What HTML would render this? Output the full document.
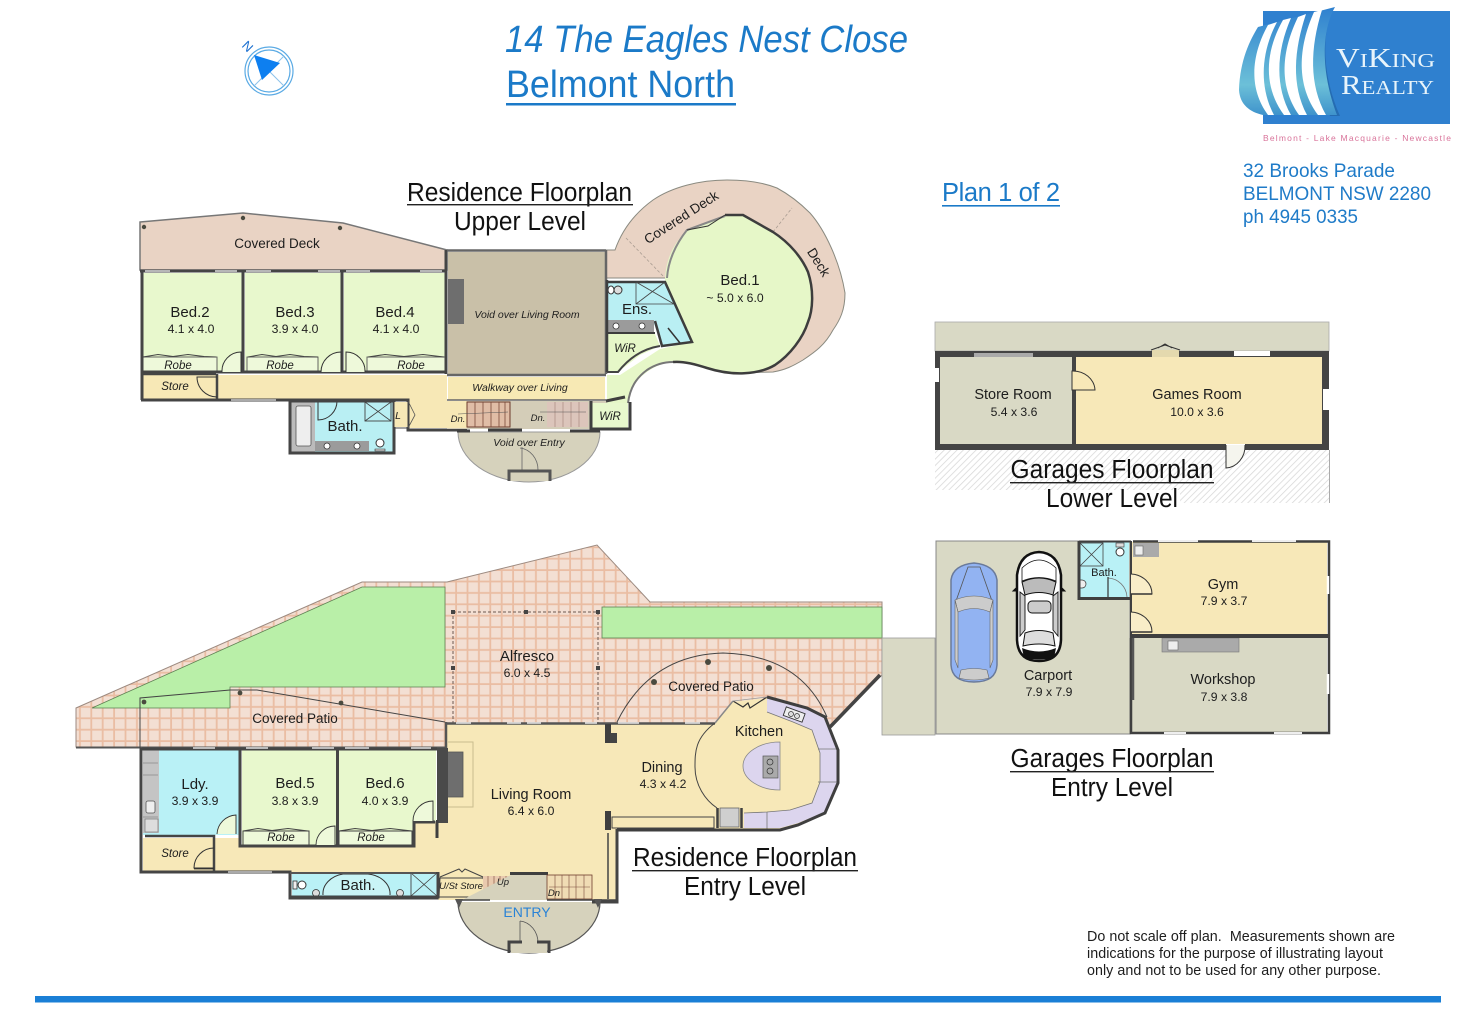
<!DOCTYPE html>
<html><head><meta charset="utf-8"><title>14 The Eagles Nest Close</title>
<style>
html,body{margin:0;padding:0;background:#fff}
svg{display:block}
text{font-family:"Liberation Sans",sans-serif;fill:#1d1d1d}
.n{font-size:15px;text-anchor:middle}
.d{font-size:12.2px;text-anchor:middle}
.r{font-size:11.5px;font-style:italic;text-anchor:middle}
.c{font-size:13.5px;text-anchor:middle}
.h{font-size:25.5px;text-anchor:middle;fill:#111}
.w{fill:none;stroke:#454545;stroke-width:3}
.t{fill:none;stroke:#444;stroke-width:1}
.p{fill:#4a4a3f}
.st{fill:none;stroke:#7a4a3a;stroke-width:.8}
</style></head><body>
<svg width="1472" height="1029" viewBox="0 0 1472 1029" xmlns="http://www.w3.org/2000/svg">
<defs>
<pattern id="tile" width="11.4" height="11.4" patternUnits="userSpaceOnUse"><rect width="11.4" height="11.4" fill="#eabda3"/><rect x="1" y="1" width="9.6" height="9.6" fill="#f3dfd3"/></pattern>
<pattern id="hat" width="4.5" height="4.5" patternUnits="userSpaceOnUse" patternTransform="rotate(45)"><rect width="4.5" height="4.5" fill="#fff"/><rect width=".8" height="4.5" fill="#d9d9d9"/></pattern>
<linearGradient id="sail" x1="0" y1="0" x2="0" y2="1"><stop offset="0" stop-color="#2f80cf"/><stop offset=".72" stop-color="#6cc0d8"/><stop offset="1" stop-color="#3f93cc"/></linearGradient>
</defs>

<!-- Header -->
<text x="505" y="52" font-size="38" font-style="italic" textLength="403" lengthAdjust="spacingAndGlyphs" style="fill:#1b7ac8">14 The Eagles Nest Close</text>
<text x="506" y="97" font-size="38" textLength="229" lengthAdjust="spacingAndGlyphs" style="fill:#1b7ac8">Belmont North</text>
<rect x="506" y="103" width="230" height="2.5" fill="#1b7ac8"/>

<!-- Compass -->
<circle cx="269" cy="71" r="24" fill="none" stroke="#5aaae4" stroke-width="1.2"/>
<circle cx="269" cy="71" r="21" fill="none" stroke="#5aaae4" stroke-width="1.2"/>
<path d="M254 56L284 86M254 86L284 56" stroke="#8cc2ea" stroke-width="1"/>
<path d="M254 55L280 63L262 80Z" fill="#0d7ff0"/>
<text x="248" y="51" font-size="13" transform="rotate(45 248 46)" text-anchor="middle" style="fill:#1a6fd0">N</text>

<!-- Logo -->
<rect x="1263" y="11" width="187" height="113" fill="#2f80cf"/>
<path d="M1332 10C1322 35 1322 75 1340 116L1330 116C1316 78 1316 35 1326 10Z" fill="#1f5f9f" opacity=".6"/>
<path d="M1239 90C1240 60 1250 40 1258 27L1335 7C1322 30 1320 70 1337 115L1263 115C1250 112 1240 105 1239 90Z" fill="url(#sail)"/>
<path d="M1268 25C1254 50 1246 85 1268 115L1274 115C1258 85 1262 50 1277 22Z" fill="#fff"/>
<path d="M1283 20C1266 50 1262 85 1284 115L1291 115C1274 85 1277 50 1291 18Z" fill="#fff"/>
<path d="M1298 17C1282 50 1278 85 1299 115L1307 115C1291 85 1294 50 1306 14Z" fill="#fff"/>
<path d="M1314 12C1298 48 1296 85 1318 115L1326 115C1309 85 1310 48 1322 10Z" fill="#fff"/>
<text x="1336" y="67" font-size="20" textLength="99" lengthAdjust="spacingAndGlyphs" style="font-family:'Liberation Serif',serif;fill:#e8f4fb"><tspan font-size="27">V</tspan>I<tspan font-size="27">K</tspan>ING</text>
<text x="1341" y="94" font-size="20" textLength="93" lengthAdjust="spacingAndGlyphs" style="font-family:'Liberation Serif',serif;fill:#e8f4fb"><tspan font-size="27">R</tspan>EALTY</text>
<text x="1263" y="141" font-size="8.5" textLength="188" style="fill:#d9739a">Belmont - Lake Macquarie - Newcastle</text>

<!-- Address -->
<text x="1243" y="177" font-size="19.5" textLength="152" lengthAdjust="spacingAndGlyphs" style="fill:#1f7bc8">32 Brooks Parade</text>
<text x="1243" y="200" font-size="19.5" textLength="188" lengthAdjust="spacingAndGlyphs" style="fill:#1f7bc8">BELMONT NSW 2280</text>
<text x="1243" y="223" font-size="19.5" textLength="115" lengthAdjust="spacingAndGlyphs" style="fill:#1f7bc8">ph 4945 0335</text>
<text x="942" y="201" font-size="25.5" textLength="118" style="fill:#1b7ac8">Plan 1 of 2</text>
<rect x="942" y="205" width="118" height="1.6" fill="#1b7ac8"/>

<!-- ========== UPPER LEVEL ========== -->
<path d="M140 222L243 213L343 223L447 250V270H140Z" fill="#e9d3c4" stroke="#777" stroke-width="1.5"/>
<circle cx="144" cy="227" r="2.2" class="p"/><circle cx="243" cy="218" r="2.2" class="p"/><circle cx="340" cy="228" r="2.2" class="p"/>
<!-- Covered deck right -->
<path d="M606 250H615C622 230 635 213 653 200C672 187 700 180 727 180C745 180 762 182 777 188C790 195 802 205 810 213C825 230 840 262 845 293C845 310 840 320 833 330C825 345 815 352 803 360C793 366 785 370 773 372L733 373L667 300V278H606Z" fill="#e9d3c4" stroke="#8a8a80" stroke-width="1"/>
<path d="M626 238L665 278M773 232L792 208" stroke="#aa9d92" stroke-width=".8" stroke-dasharray="3 2" fill="none"/>
<!-- Hall & floor -->
<path d="M218 375H447V428H408V400H218Z" fill="#f7e8b6"/>
<rect x="143" y="375" width="75" height="24" fill="#f7e8b6"/>
<!-- beds -->
<rect x="142" y="273" width="101" height="99" fill="#e8f8cd"/>
<rect x="245" y="273" width="97" height="99" fill="#e8f8cd"/>
<rect x="344" y="273" width="103" height="99" fill="#e8f8cd"/>
<rect x="143" y="357" width="74" height="15" fill="#eef9da" stroke="#555" stroke-width=".9"/>
<rect x="247" y="357" width="71" height="15" fill="#eef9da" stroke="#555" stroke-width=".9"/>
<rect x="367" y="357" width="78" height="15" fill="#eef9da" stroke="#555" stroke-width=".9"/>
<path d="M143 357L158 354.500L173 356.500L188 354.500L204 356.500L216 357M248 357L262 354.500L276 356.500L290 354.500L304 356.500L318 357M368 357L385 354.500L404 356.500L423 354.500L444 357" class="t"/>
<!-- walls upper left -->
<path d="M140 271H447M142 272V400M243 272V372M342 272V372M446 250V374M141 372H447M141 400H218" class="w"/>
<path d="M217 374V399M143 374H216" stroke="#454545" stroke-width="2.500" fill="none"/>
<path d="M218 400H408V430H447H467" class="w"/>
<path d="M145 271h25M215 271h22M246 271h25M318 271h22M346 271h24M420 271h22" stroke="#ddd" stroke-width="1.500"/>
<path d="M231 400h45" stroke="#aaa" stroke-width="2"/>
<!-- doors -->
<path d="M241 372V352A19 19 0 0 0 222 372M341 372V352A20 20 0 0 0 321 372M346 372V352A19 19 0 0 1 365 372" fill="#eef9da" stroke="#333" stroke-width="1"/>
<path d="M217 377H197A20 20 0 0 0 217 397" fill="none" stroke="#333" stroke-width="1"/>
<!-- void living -->
<rect x="448" y="252" width="157" height="122" fill="#c9c0a8"/>
<rect x="448" y="279" width="16" height="45" fill="#6e6e6e"/>
<path d="M447 250.500H606M447 375H606M606 250V374" stroke="#666" stroke-width="2.500" fill="none"/>
<rect x="448" y="377" width="157" height="23" fill="#f7e9b4"/>
<path d="M447 400H606" stroke="#666" stroke-width="1.500"/>
<!-- stair zone -->
<rect x="447" y="401" width="160" height="28" fill="#d4cdb8"/>
<path d="M447 401v27h20v-27z" fill="#f7e8b6"/>
<rect x="467" y="402" width="43" height="25" fill="#e0bda6" stroke="#6d3c2c" stroke-width="1"/>
<path d="M475 402v25M483 402v25M491 402v25M499 402v25M505 402v25" class="st"/>
<rect x="547" y="402" width="41" height="25" fill="#dcc5bb"/>
<path d="M555 402v25M563 402v25M571 402v25M579 402v25" stroke="#a98a80" stroke-width=".7"/>
<path d="M458 414L508 412M540 412H586" stroke="#555" stroke-width=".5"/>
<!-- entry void -->
<path d="M458 432H600A71 50 0 0 1 458 432Z" fill="#d6d2bc" stroke="#999" stroke-width="1"/>
<path d="M457 431H470M522 430H488M570 431H600" stroke="#3f3f3f" stroke-width="3"/>
<path d="M522 447V470M520 448A20 22 0 0 1 538 470" fill="none" stroke="#666" stroke-width=".8"/>
<path d="M509 481V471H550V481" fill="#d6d2bc" stroke="#555" stroke-width="3"/>
<!-- Bath upper -->
<rect x="289" y="401" width="105" height="53" fill="#b9eff3"/>
<rect x="291" y="402" width="24" height="50" fill="#bbb"/>
<rect x="296" y="406" width="15" height="40" rx="2" fill="#eee" stroke="#555" stroke-width=".8"/>
<rect x="315" y="441" width="54" height="10" fill="#9b9b9b"/>
<circle cx="327" cy="446" r="3" fill="#fff" stroke="#333" stroke-width=".8"/><circle cx="357" cy="446" r="3" fill="#fff" stroke="#333" stroke-width=".8"/>
<rect x="365" y="402" width="26" height="19" fill="#b9eff3" stroke="#444" stroke-width=".9"/>
<path d="M365 402L391 421M391 402L365 421" stroke="#444" stroke-width=".8"/>
<circle cx="380" cy="443" r="4" fill="#fff" stroke="#333"/><path d="M375 449h10v2h-10z" fill="#ccc" stroke="#333" stroke-width=".6"/>
<path d="M318 401V420A19 19 0 0 0 337 401" fill="none" stroke="#333" stroke-width="1"/>
<path d="M290 401H394V453H290Z" class="w"/>
<rect x="394" y="402" width="14" height="25" fill="#f7e8b6"/>
<path d="M394 428H408V401M394 402V428" class="t"/>
<path d="M408 401L415 415L408 428" fill="none" stroke="#555" stroke-width=".8"/>

<!-- Bed 1 & ensuite -->
<path d="M607 375H620L640 362L660 349L692 342L665 282C665 262 672 245 687 230L725 215H743L773 232C790 243 802 258 808 272C814 290 813 310 808 322C803 338 790 355 775 365C758 375 732 376 707 368C695 364 683 361 673 362C660 362 645 372 638 380C632 388 628 395 628 403H607Z" fill="#e6f7c8"/>
<path d="M667 278C668 262 675 245 687 230L725 216" fill="none" stroke="#888" stroke-width="2"/>
<path d="M725 215H743L773 232C790 243 802 258 808 272C814 290 813 310 808 322C803 338 790 355 775 365C758 375 732 376 707 368C695 364 683 361 673 362" fill="none" stroke="#3d3d3d" stroke-width="2.500"/>
<path d="M628 403C630 388 636 378 647 370C656 364 664 362 673 362" fill="none" stroke="#777" stroke-width="2"/>
<path d="M687 230L708 226L725 215" fill="none" stroke="#333" stroke-width="1"/>
<!-- ensuite -->
<path d="M608 281H665L692 342L662 345L653 321H608Z" fill="#b9eff3"/>
<path d="M608 282H665L692 342L662 346L655 321" fill="none" stroke="#3d3d3d" stroke-width="2.500"/>
<path d="M636 282H665L674 304H636ZM636 282L674 304M665 282L636 304" fill="none" stroke="#444" stroke-width=".8"/>
<rect x="608" y="320" width="46" height="13" fill="#9b9b9b"/>
<circle cx="616" cy="326" r="3" fill="#fff" stroke="#333" stroke-width=".8"/><circle cx="642" cy="326" r="3" fill="#fff" stroke="#333" stroke-width=".8"/>
<path d="M606 333H655" stroke="#3d3d3d" stroke-width="2"/>
<circle cx="618" cy="290" r="4" fill="#ddd" stroke="#333" stroke-width="1"/><ellipse cx="611" cy="290" rx="3" ry="4" fill="#fff" stroke="#333"/>
<path d="M668 328L680 343" fill="none" stroke="#333" stroke-width="1.500"/>
<!-- WiR upper -->
<path d="M608 334H655L660 346L640 355L618 372H608Z" fill="#e6f7c8"/>
<path d="M660 346Q635 350 618 372H607" fill="none" stroke="#444" stroke-width="2"/>
<rect x="592" y="403" width="36" height="27" fill="#e8f8cd"/>
<path d="M591 401V429H630V402M606 401L625 397" fill="none" stroke="#3f3f3f" stroke-width="3"/>
<path d="M607 280V372" stroke="#3f3f3f" stroke-width="2.500"/>

<!-- ========== ENTRY LEVEL ========== -->
<path d="M76 708L362 582H447L597 545L650 602H882V675L830 727L715 723H447V747H76Z" fill="url(#tile)" stroke="#9c8a80" stroke-width="1"/>
<path d="M92 708L362 587H445V687H230V708Z" fill="#b9efa8" stroke="#5e7f53" stroke-width=".8"/>
<rect x="602" y="607" width="280" height="31" fill="#b9efa8" stroke="#5e7f53" stroke-width=".8"/>
<path d="M76 747.500H447" stroke="#555" stroke-width="2"/>
<path d="M140 748V698L230 690H257L445 722" fill="none" stroke="#444" stroke-width="1"/>
<circle cx="144" cy="702" r="2.400" class="p"/><circle cx="240" cy="693" r="2.400" class="p"/><circle cx="341" cy="703" r="2.400" class="p"/>
<rect x="453" y="612" width="145" height="111" fill="none" stroke="#6d5a52" stroke-width="1" stroke-dasharray="3 2"/>
<path d="M451 610h4v4h-4zM524 610h4v4h-4zM596 610h4v4h-4zM451 666h4v4h-4zM596 666h4v4h-4z" fill="#444"/>
<path d="M617 722Q650 655 723 653Q800 655 827 717" fill="none" stroke="#444" stroke-width="1"/>
<circle cx="654" cy="682" r="3" class="p"/><circle cx="708" cy="662" r="3" class="p"/><circle cx="769" cy="668" r="3" class="p"/>
<path d="M830 727L880 675" stroke="#444" stroke-width="3.500"/>

<!-- Main floor -->
<path d="M447 724H715L733 702L767 698L807 708L825 717L838 750V783L825 813L798 825L780 830H617V900H438V873H143V838H240V847H413V822H437V748H447Z" fill="#f7e8b8"/>
<path d="M448 742h25v65h-25" fill="none" stroke="#c9bd8e" stroke-width="1"/>
<rect x="443" y="752" width="20" height="45" fill="#6e6e6e" stroke="#555" stroke-width=".8"/>
<rect x="437" y="748" width="11" height="75" fill="#4a4a4a"/>
<path d="M437 820V838" stroke="#3f3f3f" stroke-width="3"/>
<!-- Ldy -->
<rect x="143" y="749" width="96" height="86" fill="#b9f1f6"/>
<rect x="143" y="750" width="16" height="83" fill="#c4c4c4"/>
<path d="M143 763H158M143 775H158M143 817H158" stroke="#888" stroke-width=".7"/>
<rect x="146" y="801" width="9" height="12" rx="2" fill="#eee" stroke="#555" stroke-width=".8"/>
<rect x="145" y="819" width="13" height="13" fill="#ddd" stroke="#777" stroke-width=".7"/>
<!-- Beds -->
<rect x="242" y="749" width="95" height="96" fill="#e8f8cd"/>
<path d="M339 749H436V821H413V845H339Z" fill="#e8f8cd"/>
<rect x="243" y="831" width="66" height="14" fill="#eef9da" stroke="#444" stroke-width="1"/>
<rect x="339" y="831" width="73" height="14" fill="#eef9da" stroke="#444" stroke-width="1"/>
<path d="M243 831L258 828.500L272 830.500L288 828.500L308 831M339 831L355 828.500L372 830.500L390 828.500L412 831" class="t"/>
<!-- walls entry -->
<path d="M141 748V872H290V898H437V872M142 749H437" class="w"/>
<path d="M145 836H214V872" fill="none" stroke="#454545" stroke-width="2.500"/>
<path d="M240 749V846H414V822H435M337.500 749V846" fill="none" stroke="#454545" stroke-width="3"/>
<path d="M193 748h22M246 748h22M312 748h22M345 748h24M411 748h20" stroke="#e2e2e2" stroke-width="1.500"/>
<path d="M228 872h44" stroke="#aaa" stroke-width="2"/>
<!-- doors -->
<path d="M236 834V815A20 20 0 0 0 217 834M335 845V826A19 19 0 0 0 316 845M433 821V801A20 20 0 0 0 413 821" fill="#eef9da" stroke="#333" stroke-width=".9"/>
<path d="M214 848A20 20 0 0 0 194 868H214" fill="none" stroke="#333" stroke-width="1"/>
<path d="M194 868.500H214" stroke="#333" stroke-width="1.800"/>
<!-- lower bath -->
<rect x="292" y="873" width="145" height="24" fill="#b9f1f6"/>
<path d="M323 895A25 20 0 0 1 343 874H368A25 20 0 0 1 390 895" fill="#c9f4f6" stroke="#333" stroke-width="1"/>
<circle cx="316" cy="893" r="3.500" fill="#ddd" stroke="#333" stroke-width=".8"/><circle cx="400" cy="893" r="3.500" fill="#ddd" stroke="#333" stroke-width=".8"/>
<circle cx="302" cy="885" r="4" fill="#fff" stroke="#333" stroke-width="1"/><rect x="293" y="881" width="4" height="8" fill="#eee" stroke="#333" stroke-width=".8"/>
<rect x="411" y="873" width="26" height="23" fill="none" stroke="#444" stroke-width=".9"/>
<path d="M411 873L437 896M437 873L411 896" stroke="#444" stroke-width=".8"/>
<path d="M290 873V897H438V872" class="w"/>
<path d="M290 873h146" stroke="#555" stroke-width="2"/>
<!-- store under stairs -->
<path d="M440 878H483L490 897H439Z" fill="#f7e8b8" stroke="#444" stroke-width="1"/>
<path d="M440 877L459 869L462 872L465 869L483 877" fill="none" stroke="#444" stroke-width="1"/>
<rect x="483" y="876" width="27" height="22" fill="#e9caae"/>
<path d="M488 876v22M494 876v22M500 876v22M506 876v22M490 887H505" stroke="#7a4a3a" stroke-width=".6"/>
<!-- entry -->
<path d="M511 875H547V900H459L458 902H600A71 51 0 0 1 458 902" fill="#d6d2bc"/>
<path d="M510 873.500H548" stroke="#3f3f3f" stroke-width="3"/>
<rect x="547" y="875" width="45" height="24" fill="#f0dcb4" stroke="#6d3c2c" stroke-width=".8"/>
<path d="M555 875v24M562 875v24M569 875v24M576 875v24M584 875v24M549 887H590" stroke="#7a4a3a" stroke-width=".6"/>
<path d="M458 900H490M547 900H618M608 833V899" stroke="#444" stroke-width="1.500" fill="none"/>
<path d="M617 829V902H592" fill="none" stroke="#444" stroke-width="3"/>
<path d="M458 902A71 51 0 0 0 600 902" fill="none" stroke="#555" stroke-width="1.200"/>
<path d="M455 899L463 899L459 908Z M602 899L594 899L598 908Z" fill="#555"/>
<path d="M520 921V943M520 921A20 22 0 0 1 538 943" fill="none" stroke="#555" stroke-width=".8"/>
<rect x="511" y="943" width="36" height="10" fill="#d6d2bc"/>
<path d="M509 953V942H522M549 953V942H537" fill="none" stroke="#444" stroke-width="3"/>
<!-- main top wall -->
<path d="M447 723.500H715M446 722V748" stroke="#555" stroke-width="2.500" fill="none"/>
<path d="M456 723h15M507 723h14M527 723h14M585 723h12M618 723h21M685 723h15" stroke="#e9e9e9" stroke-width="1.500"/>
<rect x="605" y="724" width="6" height="19" fill="#3f3f3f"/><rect x="610" y="733" width="7" height="10" fill="#444"/>
<rect x="605" y="811" width="6" height="19" fill="#3f3f3f"/>
<rect x="612" y="817" width="102" height="11" fill="#f7e8b8" stroke="#444" stroke-width="1"/>
<!-- kitchen -->
<path d="M715 723C695 738 695 752 695 767C695 785 705 800 717 808" fill="none" stroke="#444" stroke-width="1"/>
<path d="M767 698L807 708L825 717L837 750V783L825 812L798 823L780 828H744V813L767 812L790 810L812 803L820 782V753L812 730L793 722L767 712Z" fill="#dcd5ee"/>
<path d="M818 749H838M818 782H838M767 812V829" stroke="#777" stroke-width=".8"/>
<path d="M767 697L807 708L825 717L838 750V783L825 813L798 825L780 830H617" fill="none" stroke="#3f3f3f" stroke-width="3"/>
<path d="M767 712L793 722L812 730L820 753V782L812 803L790 810L767 812L744 813" fill="none" stroke="#777" stroke-width=".8"/>
<path d="M733 701L743 707L748 703L750 708L767 697" fill="none" stroke="#333" stroke-width="1.200"/>
<path d="M733 701L715 723" stroke="#888" stroke-width="1.500"/>
<path d="M733 701L767 697" stroke="#999" stroke-width=".8"/>
<rect x="784" y="710" width="20" height="9" transform="rotate(20 794 715)" fill="#eee" stroke="#333" stroke-width=".9"/>
<circle cx="791" cy="714" r="2.500" fill="#ddd" stroke="#333" stroke-width=".7"/><circle cx="797" cy="716" r="2.500" fill="#ddd" stroke="#333" stroke-width=".7"/>
<rect x="720" y="808" width="19" height="19" fill="#cfcfcf" stroke="#666" stroke-width=".8"/>
<path d="M717.500 808V828M741.500 808V828" stroke="#3f3f3f" stroke-width="2.500"/>
<path d="M780 742V790A37 24 0 0 1 780 742Z" fill="#dcd5ee" stroke="#888" stroke-width=".8"/>
<rect x="763" y="756" width="15" height="22" fill="#aaa" stroke="#555" stroke-width=".7"/>
<circle cx="770" cy="762" r="3" fill="none" stroke="#333" stroke-width=".7"/><circle cx="770" cy="771" r="3" fill="none" stroke="#333" stroke-width=".7"/>

<!-- ========== GARAGE ENTRY ========== -->
<rect x="882" y="638" width="53" height="97" fill="#d9d9c5" stroke="#999" stroke-width=".8"/>
<rect x="936" y="541" width="194" height="193" fill="#d9d9c5" stroke="#888" stroke-width="1"/>
<rect x="1132" y="542" width="195" height="92" fill="#f7e8b8"/>
<rect x="1132" y="638" width="195" height="94" fill="#d9d9c5"/>
<rect x="1133" y="543" width="26" height="14" fill="#aaa"/><rect x="1135" y="546" width="8" height="9" fill="#eee" stroke="#666" stroke-width=".6"/>
<rect x="1162" y="638" width="77" height="14" fill="#aaa" stroke="#777" stroke-width=".6"/><rect x="1168" y="641" width="10" height="9" fill="#eee" stroke="#666" stroke-width=".6"/>
<rect x="1079" y="542" width="50" height="56" fill="#b9f1f6"/>
<rect x="1080" y="543" width="23" height="23" fill="none" stroke="#444" stroke-width=".8"/>
<path d="M1080 543L1103 566M1103 543L1080 566" stroke="#444" stroke-width=".8"/>
<path d="M1108 578V597M1108 578A20 20 0 0 1 1127 597" fill="none" stroke="#777" stroke-width=".8"/>
<path d="M1108 577V597" stroke="#333" stroke-width="1.200"/>
<circle cx="1120" cy="552" r="4" fill="#fff" stroke="#333" stroke-width="1"/><rect x="1116" y="543" width="8" height="4" fill="#ddd" stroke="#333" stroke-width=".6"/>
<path d="M1080 580h2a4 4 0 0 1 0 8h-2z" fill="#eee" stroke="#333" stroke-width=".7"/>
<path d="M1079 541V598.500H1130" fill="none" stroke="#3f3f3f" stroke-width="3"/>
<path d="M1079 541.500H1131" stroke="#3f3f3f" stroke-width="2"/>
<path d="M1131 541V635" stroke="#3f3f3f" stroke-width="2"/>
<path d="M1133 541.500H1329V733H1131V638" fill="none" stroke="#3f3f3f" stroke-width="2.500"/>
<path d="M1130 636H1329" stroke="#3f3f3f" stroke-width="4"/>
<path d="M1133 638V700" stroke="#555" stroke-width="2.500"/>
<path d="M1158 541h40M1252 541h44M1164 733h22M1274 733h28" stroke="#eee" stroke-width="2"/>
<path d="M1328 576v18M1328 674v20" stroke="#fff" stroke-width="2.500"/>
<path d="M1131 594H1152A22 20 0 0 0 1131 574M1131 632H1152A22 20 0 0 0 1131 612" fill="#f9edc8" stroke="#333" stroke-width="1"/>
<path d="M1131 594H1152M1131 632H1152" stroke="#333" stroke-width="1.500"/>
<!-- Blue car -->
<path d="M951 580Q953 565 974 563Q995 565 997 580V665Q996 682 974 682Q952 682 951 665Z" fill="#92b3f2" stroke="#6a7a9a" stroke-width="1.500"/>
<path d="M956 601L968 567H980L992 601Z" fill="#92b3f2" stroke="#555" stroke-width=".8"/>
<path d="M955 600Q974 592 993 600L990 612Q974 605 958 612Z" fill="#ccc" stroke="#666" stroke-width=".6"/>
<path d="M955 600V660L958 668V612ZM993 600V660L990 668V612Z" fill="#ccc" stroke="#666" stroke-width=".6"/>
<path d="M961 670Q974 667 987 670L989 678Q974 682 959 678Z" fill="#ccc" stroke="#666" stroke-width=".6"/>
<!-- White car -->
<path d="M1017 575Q1020 553 1039 552Q1058 553 1061 575V640Q1060 661 1039 661Q1018 661 1017 640Z" fill="#fff" stroke="#111" stroke-width="2.500"/>
<path d="M1022 582Q1039 574 1056 582L1053 595Q1039 590 1025 595Z" fill="#bbb" stroke="#111" stroke-width="1"/>
<path d="M1020 592L1025 596V630L1020 636ZM1058 592L1053 596V630L1058 636Z" fill="#ccc" stroke="#111" stroke-width=".9"/>
<rect x="1028" y="601" width="23" height="12" rx="4" fill="#ccc" stroke="#111" stroke-width="1"/>
<path d="M1025 633Q1039 628 1053 633L1055 646Q1039 642 1023 646Z" fill="#ddd" stroke="#111" stroke-width="1"/>
<path d="M1022 568Q1039 552 1056 568L1056 581Q1039 574 1022 581Z" fill="#fff" stroke="#111" stroke-width=".8"/>
<path d="M1022 648Q1039 655 1056 648L1054 658Q1039 661 1024 658Z" fill="#111"/>
<path d="M1016 588l-3 3h4M1062 588l3 3h-4" stroke="#111" fill="#111"/>

<!-- ========== GARAGE LOWER ========== -->
<rect x="935" y="322" width="394" height="29" fill="#d9d9c5" stroke="#aaa" stroke-width=".8"/>
<rect x="935" y="450" width="394" height="53" fill="url(#hat)"/>
<rect x="935" y="490" width="245" height="14" fill="#fff"/>
<path d="M1329.500 450V503" stroke="#aaa" stroke-width="1"/>
<rect x="935" y="351" width="394" height="99" fill="#444"/>
<rect x="940" y="357" width="132" height="87" fill="#d9d9c5"/>
<rect x="1076" y="357" width="246" height="87" fill="#f7e8b8"/>
<rect x="974" y="353" width="59" height="4" fill="#aaa"/>
<rect x="1152" y="350" width="27" height="7" fill="#e4d9ae"/>
<path d="M1151 350L1165 345L1180 350M1158 348L1165 344L1172 348" fill="none" stroke="#333" stroke-width="1"/>
<rect x="1234" y="351" width="36" height="5" fill="#fff"/>
<rect x="935" y="368" width="4" height="14" fill="#fff"/>
<rect x="1323" y="389" width="6" height="21" fill="#fff"/>
<path d="M1072 390H1095A22 20 0 0 0 1072 371Z" fill="#f7e8b8" stroke="#333" stroke-width="1"/>
<rect x="1226" y="444" width="19" height="7" fill="#fff"/>
<path d="M1226 445V468A20 22 0 0 0 1245 445" fill="#f5f5ee" stroke="#333" stroke-width="1"/>

<!-- Labels: residence upper -->
<text class="c" x="277" y="248">Covered Deck</text>
<text class="n" x="190" y="317">Bed.2</text><text class="d" x="191" y="333">4.1 x 4.0</text>
<text class="n" x="295" y="317">Bed.3</text><text class="d" x="295" y="333">3.9 x 4.0</text>
<text class="n" x="395" y="317">Bed.4</text><text class="d" x="396" y="333">4.1 x 4.0</text>
<text class="r" x="178" y="369">Robe</text><text class="r" x="280" y="369">Robe</text><text class="r" x="411" y="369">Robe</text>
<text class="r" x="175" y="390">Store</text>
<text x="527" y="318" font-size="10.500" font-style="italic" text-anchor="middle">Void over Living Room</text>
<text x="520" y="391" font-size="10.500" font-style="italic" text-anchor="middle">Walkway over Living</text>
<text x="345" y="431" font-size="15" text-anchor="middle">Bath.</text>
<text x="398" y="419" font-size="10.500" font-style="italic" text-anchor="middle">L</text>
<text x="458" y="422" font-size="9.500" font-style="italic" text-anchor="middle">Dn.</text>
<text x="538" y="421" font-size="9.500" font-style="italic" text-anchor="middle">Dn.</text>
<text x="529" y="446" font-size="10.500" font-style="italic" text-anchor="middle">Void over Entry</text>
<text class="r" x="610" y="420">WiR</text>
<text class="r" x="625" y="352">WiR</text>
<text x="637" y="314" font-size="15" text-anchor="middle">Ens.</text>
<text class="n" x="740" y="285">Bed.1</text><text class="d" x="735" y="302">~ 5.0 x 6.0</text>
<text class="c" x="681" y="222" transform="rotate(-33 681 217)">Covered Deck</text>
<text class="c" x="819" y="267" transform="rotate(58 819 262)">Deck</text>
<!-- Headings -->
<text class="h" x="519.500" y="201" textLength="225" lengthAdjust="spacingAndGlyphs">Residence Floorplan</text>
<rect x="407" y="204" width="226" height="1.400" fill="#222"/>
<text class="h" x="520" y="230" textLength="132" lengthAdjust="spacingAndGlyphs">Upper Level</text>
<text class="h" x="1112" y="478" textLength="203" lengthAdjust="spacingAndGlyphs">Garages Floorplan</text>
<rect x="1010" y="482" width="204" height="1.400" fill="#222"/>
<text class="h" x="1112" y="507" textLength="132" lengthAdjust="spacingAndGlyphs">Lower Level</text>
<text class="h" x="1112" y="767" textLength="203" lengthAdjust="spacingAndGlyphs">Garages Floorplan</text>
<rect x="1010" y="771" width="204" height="1.400" fill="#222"/>
<text class="h" x="1112" y="796" textLength="122" lengthAdjust="spacingAndGlyphs">Entry Level</text>
<text class="h" x="745" y="866" textLength="224" lengthAdjust="spacingAndGlyphs">Residence Floorplan</text>
<rect x="632" y="870" width="226" height="1.400" fill="#222"/>
<text class="h" x="745" y="895" textLength="122" lengthAdjust="spacingAndGlyphs">Entry Level</text>
<!-- Labels: garage -->
<text class="c" x="1013" y="399" style="font-size:14.500px">Store Room</text><text class="d" x="1014" y="416">5.4 x 3.6</text>
<text class="c" x="1197" y="399" style="font-size:14.500px">Games Room</text><text class="d" x="1197" y="416">10.0 x 3.6</text>
<text class="c" x="1223" y="589" style="font-size:14.500px">Gym</text><text class="d" x="1224" y="605">7.9 x 3.7</text>
<text class="c" x="1223" y="684" style="font-size:14.500px">Workshop</text><text class="d" x="1224" y="701">7.9 x 3.8</text>
<text class="c" x="1048" y="680" style="font-size:14.500px">Carport</text><text class="d" x="1049" y="696">7.9 x 7.9</text>
<text x="1104" y="576" font-size="11" text-anchor="middle">Bath.</text>
<!-- Labels: entry level -->
<text class="n" x="527" y="661">Alfresco</text><text class="d" x="527" y="677">6.0 x 4.5</text>
<text class="c" x="711" y="691">Covered Patio</text>
<text class="c" x="295" y="723">Covered Patio</text>
<text class="n" x="195" y="789">Ldy.</text><text class="d" x="195" y="805">3.9 x 3.9</text>
<text class="n" x="295" y="788">Bed.5</text><text class="d" x="295" y="805">3.8 x 3.9</text>
<text class="n" x="385" y="788">Bed.6</text><text class="d" x="385" y="805">4.0 x 3.9</text>
<text class="r" x="281" y="841">Robe</text><text class="r" x="371" y="841">Robe</text>
<text class="r" x="175" y="857">Store</text>
<text x="531" y="799" font-size="14.500" text-anchor="middle">Living Room</text><text class="d" x="531" y="815">6.4 x 6.0</text>
<text x="662" y="772" font-size="14.500" text-anchor="middle">Dining</text><text class="d" x="663" y="788">4.3 x 4.2</text>
<text x="759" y="736" font-size="14.500" text-anchor="middle">Kitchen</text>
<text x="358" y="890" font-size="15" text-anchor="middle">Bath.</text>
<text x="461" y="889" font-size="9.500" font-style="italic" text-anchor="middle">U/St Store</text>
<text x="503" y="885" font-size="9.500" font-style="italic" text-anchor="middle">Up</text>
<text x="554" y="896" font-size="9.500" font-style="italic" text-anchor="middle">Dn</text>
<text x="527" y="917" font-size="14" text-anchor="middle" style="fill:#2a83d6">ENTRY</text>
<!-- Disclaimer -->
<text x="1087" y="941" font-size="14.300" textLength="308" xml:space="preserve">Do not scale off plan.  Measurements shown are</text>
<text x="1087" y="958" font-size="14.300" textLength="296">indications for the purpose of illustrating layout</text>
<text x="1087" y="975" font-size="14.300" textLength="294">only and not to be used for any other purpose.</text>
<rect x="35" y="996" width="1406" height="6.500" fill="#1a7fd6"/>
</svg>
</body></html>
